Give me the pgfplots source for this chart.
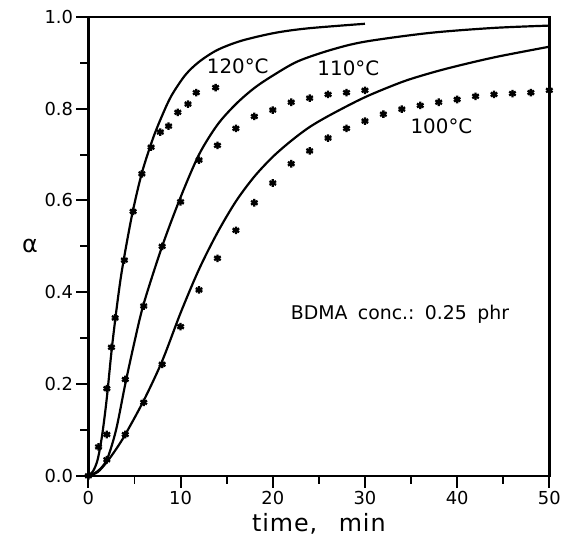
\documentclass[border=0pt]{standalone}
\usepackage{fontspec}
\setmainfont{DejaVu Sans}
\usepackage{pgfplots}
\pgfplotsset{compat=1.18}
\begin{document}
\begin{tikzpicture}
\begin{axis}[scale only axis,width=464pt,height=462pt,
  xmin=0,xmax=50,ymin=0,ymax=1,
  xtick={0,10,20,30,40,50},minor xtick={5,15,25,35,45},
  ytick={0,0.2,0.4,0.6,0.8,1.0},minor ytick={0.1,0.3,0.5,0.7,0.9},
  yticklabel style={/pgf/number format/.cd,fixed,fixed zerofill,precision=1},
  /pgf/number format/assume math mode=true,
  tick align=outside,tick pos=left,
  major tick length=12pt,minor tick length=8pt,
  every tick/.style={line width=2pt,black},
  axis line style={line width=2.4pt},
  tick label style={font=\fontsize{18}{20}\selectfont},
  xlabel={\addfontfeature{LetterSpace=4}time,\hspace{0.9em}min},
  xlabel style={font=\fontsize{24}{26}\selectfont,yshift=-2pt},
  ylabel={α},
  ylabel style={font=\fontsize{24}{26}\selectfont,rotate=-90,xshift=0pt},
  mark options={solid},
]
% model curves
\addplot[black,line width=2.2pt,smooth,no marks] coordinates {(0,0) (0.5,0.01) (1,0.035) (1.5,0.09) (2,0.17) (2.5,0.27) (3,0.355) (3.5,0.43) (4,0.49) (4.8,0.575) (5.8,0.66) (7,0.735) (8,0.785) (9,0.828) (10.5,0.873) (12,0.902) (14,0.928) (16.6,0.948) (20.2,0.965) (23.8,0.975) (30,0.985)};
\addplot[black,line width=2.2pt,smooth,no marks] coordinates {(0,0) (1,0.01) (2,0.035) (3,0.1) (4,0.2) (5,0.292) (6,0.375) (8,0.5) (10,0.607) (12,0.7) (14,0.765) (16,0.81) (18,0.845) (20,0.872) (22.7,0.903) (26.3,0.928) (30,0.946) (37,0.965) (44,0.976) (50,0.981)};
\addplot[black,line width=2.2pt,smooth,no marks] coordinates {(0,0) (1,0.008) (2,0.03) (3,0.058) (4,0.09) (6,0.164) (8,0.25) (10,0.355) (12,0.45) (14,0.53) (16,0.598) (18,0.652) (20,0.695) (22,0.73) (24,0.76) (26.3,0.787) (30,0.825) (34,0.858) (37,0.877) (40,0.893) (44.3,0.913) (50,0.935)};
% measured points
\addplot[only marks,mark=asterisk,mark size=3.8pt,line width=2.3pt] coordinates {(0,0) (1.1,0.063) (2,0.19) (2.5,0.28) (2.9,0.344) (3.9,0.47) (4.85,0.576) (5.8,0.658) (6.8,0.716) (7.8,0.749) (8.7,0.762) (9.7,0.792) (10.8,0.81) (11.7,0.835) (13.8,0.846)};
\addplot[only marks,mark=asterisk,mark size=3.8pt,line width=2.3pt] coordinates {(2,0.09) (4,0.21) (6,0.37) (8,0.5) (10,0.597) (12,0.688) (14,0.72) (16,0.757) (18,0.783) (20,0.797) (22,0.814) (24,0.823) (26,0.831) (28,0.835) (30,0.84)};
\addplot[only marks,mark=asterisk,mark size=3.8pt,line width=2.3pt] coordinates {(2,0.035) (4,0.09) (6,0.16) (8,0.243) (10,0.325) (12,0.405) (14,0.474) (16,0.535) (18,0.595) (20,0.638) (22,0.68) (24,0.708) (26,0.736) (28,0.757) (30,0.773) (32,0.788) (34,0.799) (36,0.807) (38,0.814) (40,0.82) (42,0.827) (44,0.831) (46,0.833) (48,0.835) (50,0.84)};
\node[font=\fontsize{20}{22}\selectfont] at (axis cs:16.2,0.892) {120°C};
\node[font=\fontsize{20}{22}\selectfont] at (axis cs:28.2,0.887) {110°C};
\node[font=\fontsize{20}{22}\selectfont] at (axis cs:38.3,0.762) {100°C};
\node[font=\fontsize{19}{22}\selectfont] at (axis cs:33.8,0.351) {BDMA\hspace{0.55em}conc.:\hspace{0.55em}0.25\hspace{0.55em}phr};
\end{axis}
\path[use as bounding box] ([xshift=-89pt,yshift=-62pt]current axis.south west) rectangle ([xshift=11pt,yshift=17pt]current axis.north east);
\end{tikzpicture}
\end{document}
